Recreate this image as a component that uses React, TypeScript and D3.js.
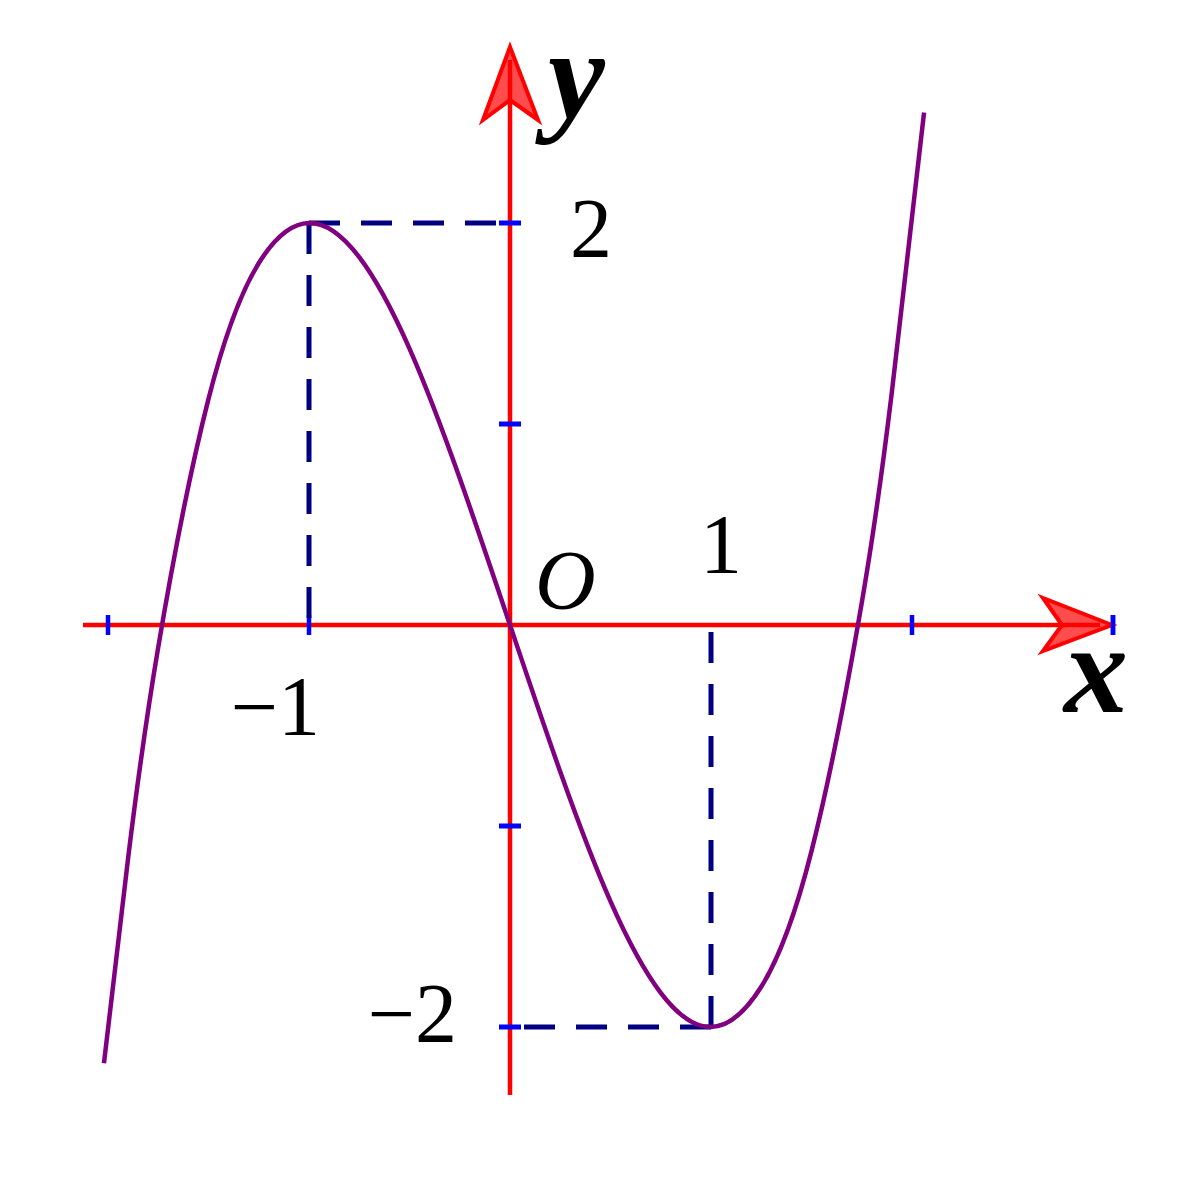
import React from "react";
import * as d3 from "d3";

const curveX = [-2.02, -1.9, -1.75, -1.5, -1.25, -1, -0.75, -0.5, -0.25, 0, 0.25, 0.5, 0.75, 1, 1.25, 1.5, 1.75, 1.9, 2.06];
const curveY = [-2.18, -1.16, -0.11, 1.125, 1.8, 2, 1.83, 1.375, 0.73, 0, -0.73, -1.375, -1.83, -2, -1.8, -1.125, 0.11, 1.16, 2.55];
const xTicks = [-2, -1, 2, 3];
const yTicks = [-2, -1, 1, 2];
const extremaX = [-1, 1];
const extremaY = [2, -2];

const W = 1195;
const H = 1200;

export default function App() {
  const x = d3.scaleLinear().domain([-2, 3]).range([108, 1113]);
  const y = d3.scaleLinear().domain([-2, 2]).range([1027, 223]);
  const x0 = x(0);
  const y0 = y(0);
  const pts: [number, number][] = curveX.map((v, i) => [v, curveY[i]]);
  const line = d3
    .line<[number, number]>()
    .x((d) => x(d[0]))
    .y((d) => y(d[1]))
    .curve(d3.curveNatural);

  const serif = "'Liberation Serif', 'Times New Roman', serif";
  const fs = 84;

  return (
    <svg
      width={W}
      height={H}
      style={{ position: "absolute", left: 0, top: 0, background: "#fff" }}
    >
      {/* axes */}
      <line x1={83} y1={y0} x2={1100} y2={y0} stroke="#ff0000" strokeWidth={4.5} />
      <line x1={x0} y1={1095} x2={x0} y2={60} stroke="#ff0000" strokeWidth={4.5} />
      {/* ticks */}
      {xTicks.map((t) => (
        <line key={"xt" + t} x1={x(t)} x2={x(t)} y1={y0 - 10} y2={y0 + 10} stroke="#0000ff" strokeWidth={4.5} />
      ))}
      {yTicks.map((t) => (
        <line key={"yt" + t} x1={x0 - 11} x2={x0 + 11} y1={y(t)} y2={y(t)} stroke="#0000ff" strokeWidth={5} />
      ))}
      {/* dashed guides */}
      {extremaX.map((ex, i) => (
        <g key={"g" + i} stroke="#000080" strokeWidth={5} strokeDasharray="31 21" fill="none">
          <line x1={x(ex)} y1={y(extremaY[i])} x2={x0} y2={y(extremaY[i])} />
          <line x1={x(ex)} y1={y(extremaY[i])} x2={x(ex)} y2={y0} />
        </g>
      ))}
      {/* arrows */}
      <polygon
        points={`${x0},47 ${x0 - 27},120 ${x0},100 ${x0 + 28},120`}
        fill="#ff0000"
        fillOpacity={0.7}
        stroke="#ff0000"
        strokeWidth={4}
        strokeLinejoin="miter"
      />
      <polygon
        points={`1112,${y0} 1043,${y0 - 27} 1062,${y0} 1043,${y0 + 26}`}
        fill="#ff0000"
        fillOpacity={0.7}
        stroke="#ff0000"
        strokeWidth={4}
        strokeLinejoin="miter"
      />
      <line x1={x(3)} x2={x(3)} y1={y0 - 10} y2={y0 + 10} stroke="#0000ff" strokeWidth={4.5} />
      {/* curve */}
      <path d={line(pts) || ""} fill="none" stroke="#800080" strokeWidth={4.5} />
      {/* labels */}
      <g fontFamily={serif} fontSize={fs} fill="#000">
        <text x={570} y={257}>2</text>
        <text x={320} y={735} textAnchor="end">−1</text>
        <text x={721} y={573} textAnchor="middle">1</text>
        <text x={457} y={1042} textAnchor="end">−2</text>
        <text x={535} y={609} fontStyle="italic">O</text>
        <text x={548} y={118} fontStyle="italic" fontWeight="bold" fontSize={128}>y</text>
        <text x={1064} y={712} fontStyle="italic" fontWeight="bold" fontSize={128}>x</text>
      </g>
    </svg>
  );
}
